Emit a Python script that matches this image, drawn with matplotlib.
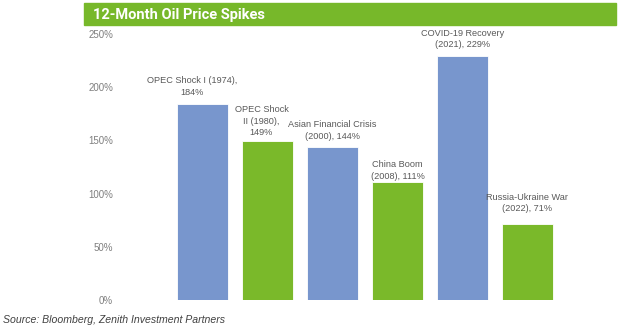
import matplotlib.pyplot as plt
from matplotlib.patches import Rectangle

# 12-month oil price spikes by episode
events = ["OPEC Shock I", "OPEC Shock\nII", "Asian Financial Crisis", "China Boom",
          "COVID-19 Recovery", "Russia-Ukraine War"]
years = [1974, 1980, 2000, 2008, 2021, 2022]
spikes = [184, 149, 144, 111, 229, 71]
yticks = [0, 50, 100, 150, 200, 250]

BLUE = "#7896CD"
GREEN = "#7AB92A"
LABEL_GREY = "#595959"
TICK_GREY = "#7F7F7F"
NARROW = ["Liberation Sans Narrow", "Liberation Sans", "DejaVu Sans"]

# how each data label is wrapped, and its nudge in pixels
label_fmt = ["{e} ({y}),\n{v}%", "{e} ({y}),\n{v}%", "{e}\n({y}), {v}%",
             "{e}\n({y}), {v}%", "{e}\n({y}), {v}%", "{e}\n({y}), {v}%"]
label_dx = [-10, -6, 0, 0, 0, 0]
label_dy = [7, 4, 6, 1, 7, 11]

fig = plt.figure(figsize=(6.26, 3.33), dpi=100)
ax = fig.add_axes([120 / 626, 33 / 333, 480 / 626, 266 / 333])

x = list(range(len(spikes)))
colors = [BLUE if i % 2 == 0 else GREEN for i in x]
ax.bar(x, spikes, width=0.785, color=colors, edgecolor="white", linewidth=0.6)

for i, v in enumerate(spikes):
    txt = label_fmt[i].format(e=events[i], y=years[i], v=v)
    ax.annotate(txt, (x[i], v), xytext=(label_dx[i], label_dy[i]),
                textcoords="offset pixels", ha="center", va="bottom",
                fontsize=6.6, family=NARROW, color=LABEL_GREY,
                linespacing=1.4)

ax.set_xlim(-(202.5 - 120) / 65, (600 - 202.5) / 65)
ax.set_ylim(0, 250)
ax.set_yticks(yticks)
ax.set_yticklabels([f"{t}%" for t in yticks], family=NARROW,
                   fontsize=7.0, color=TICK_GREY)
ax.tick_params(axis="y", length=0, pad=5)
ax.set_xticks([])
for s in ax.spines.values():
    s.set_visible(False)

# title banner
fig.patches.append(Rectangle((84 / 626, 1 - 25 / 333), 532 / 626, 22 / 333,
                             transform=fig.transFigure, color="#77B82A",
                             zorder=0))
fig.text(93 / 626, 1 - 14.5 / 333, "12-Month Oil Price Spikes",
         fontsize=10.5, fontweight="bold", family="Roboto", color="white",
         va="center", ha="left")

fig.text(3 / 626, 1 - 320 / 333,
         "Source: Bloomberg, Zenith Investment Partners",
         fontsize=7.6, style="italic", family="Liberation Sans",
         color="#404040", va="center", ha="left")

fig.savefig("out.png", dpi=100)
